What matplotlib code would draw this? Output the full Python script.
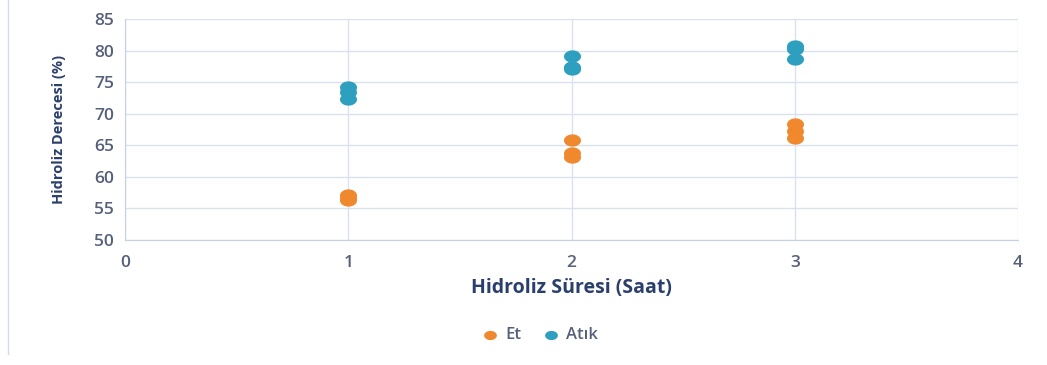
import numpy as np
import matplotlib
matplotlib.use("Agg")
import matplotlib.pyplot as plt
from matplotlib.path import Path
from matplotlib.lines import Line2D

# hydrolysis time (h) and degree of hydrolysis (%) for each sample type
hours = [1, 1, 1, 2, 2, 2, 3, 3, 3]
et_values = [57.1, 56.6, 56.3, 65.8, 63.8, 63.2, 68.4, 67.3, 66.2]
atik_values = [74.3, 73.5, 72.3, 79.2, 77.4, 77.0, 80.8, 80.3, 78.6]

x_ticks = [0, 1, 2, 3, 4]
y_ticks = [50, 55, 60, 65, 70, 75, 80, 85]

ORANGE = "#F0892E"
TEAL = "#2E9FBE"
TICK_COLOR = "#56607A"
TITLE_COLOR = "#2B3F6C"
GRID_COLOR = "#D9E1EE"

plt.rcParams["font.family"] = ["Open Sans", "DejaVu Sans"]

# slightly flattened dots
t = np.linspace(0, 2 * np.pi, 60)
ellipse = Path(np.column_stack([np.cos(t), 0.72 * np.sin(t)]), closed=True)

fig = plt.figure(figsize=(10.47, 3.65), dpi=100)
ax = fig.add_axes([0.1194, 0.3425, 0.8529, 0.6055])

ax.scatter(hours, et_values, marker=ellipse, s=150, color=ORANGE, label="Et", zorder=3, linewidths=0)
ax.scatter(hours, atik_values, marker=ellipse, s=150, color=TEAL, label="Atık", zorder=3, linewidths=0)

ax.set_xlim(0, 4)
ax.set_ylim(50, 85)
ax.set_xticks(x_ticks)
ax.set_yticks(y_ticks)
ax.grid(True, color=GRID_COLOR, linewidth=1)
ax.set_axisbelow(True)

for side in ("top", "right"):
    ax.spines[side].set_visible(False)
for side in ("left", "bottom"):
    ax.spines[side].set_color("#C5D0E2")
ax.tick_params(length=0, labelsize=12.5, labelcolor=TICK_COLOR, pad=8)
ax.tick_params(axis="x", pad=11)
for lbl in ax.get_xticklabels() + ax.get_yticklabels():
    lbl.set_fontweight("semibold")

ax.set_xlabel("Hidroliz Süresi (Saat)", fontsize=14, fontweight="bold", color=TITLE_COLOR, labelpad=5)
ax.set_ylabel("Hidroliz Derecesi (%)", fontsize=10.5, fontweight="bold", color=TITLE_COLOR, labelpad=20)

leg = fig.legend(loc="center", bbox_to_anchor=(0.513, 0.082), ncol=2, frameon=False,
                 handletextpad=0.1, columnspacing=1.1, markerscale=0.75)
for txt in leg.get_texts():
    txt.set_color(TICK_COLOR)
    txt.set_fontsize(12)
    txt.set_fontweight("semibold")

# frame line on the left of the chart area
fig.add_artist(Line2D([0.008, 0.008], [0.03, 1.0], color="#D3DBE8", linewidth=1))

fig.savefig("out.png", dpi=100)
